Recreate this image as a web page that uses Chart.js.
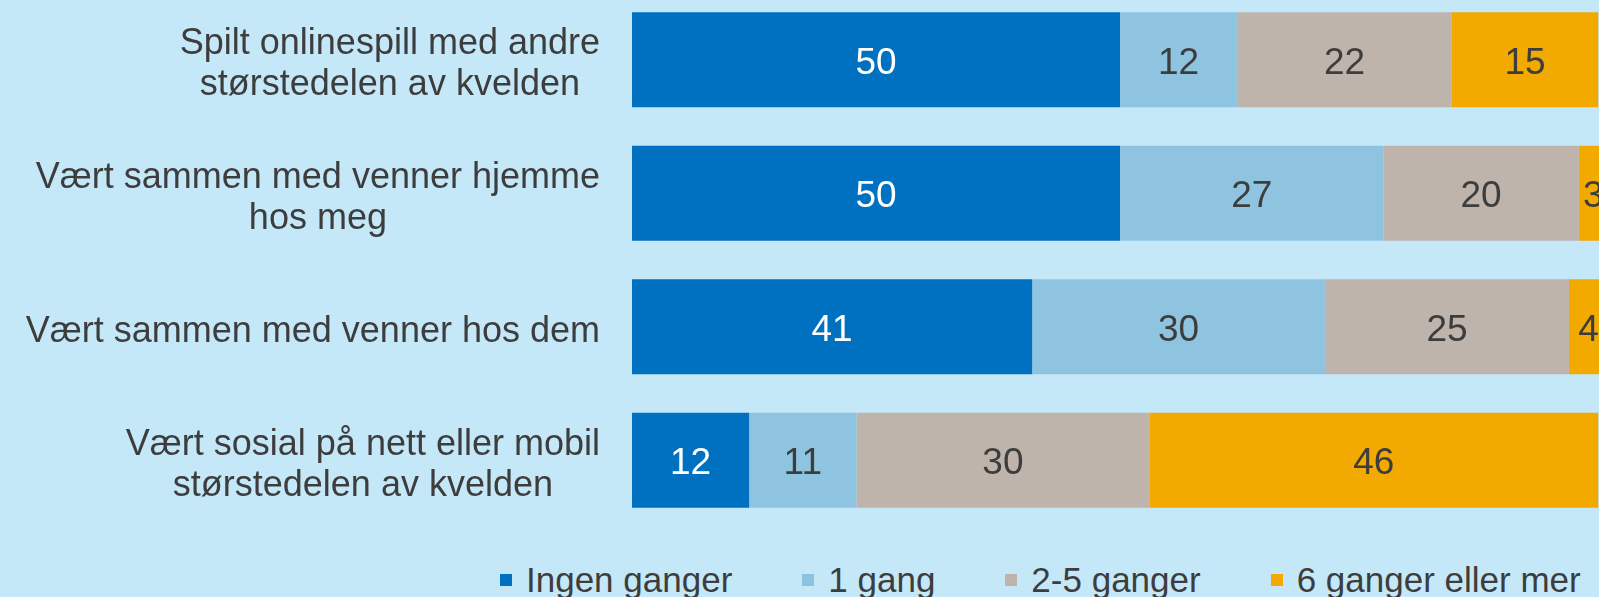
<!DOCTYPE html>
<html>
<head>
<meta charset="utf-8">
<script src="https://cdn.jsdelivr.net/npm/chart.js@4/dist/chart.umd.min.js"></script>
<style>
  html, body { margin: 0; padding: 0; width: 1599px; height: 597px; overflow: hidden; background: #C5E8F9; font-family: "Liberation Sans", Arial, sans-serif; }
  #wrap { position: absolute; left: 0; top: -8px; width: 1610px; height: 540px; }
  #legend { position: absolute; left: 500px; top: 560px; display: flex; align-items: center; font-size: 35px; line-height: 40px; color: #3D3D3D; white-space: nowrap; }
  .item { display: flex; align-items: center; margin-right: 70px; }
  .box { width: 12px; height: 12px; margin-right: 14px; }
</style>
</head>
<body>
<div id="wrap"><canvas id="c" width="1610" height="540"></canvas></div>
<div id="legend"></div>
<script>
var categories = [
  ['Spilt onlinespill med andre', 'størstedelen av kvelden'],
  ['Vært sammen med venner hjemme', 'hos meg'],
  ['Vært sammen med venner hos dem'],
  ['Vært sosial på nett eller mobil', 'størstedelen av kvelden']
];
var seriesNames = ['Ingen ganger', '1 gang', '2-5 ganger', '6 ganger eller mer'];
var ingenGanger = [50, 50, 41, 12];
var enGang = [12, 27, 30, 11];
var toFemGanger = [22, 20, 25, 30];
var seksEllerMer = [15, 3, 4, 46];

var colors = ['#0070C0', '#8FC4E0', '#BEB4AC', '#F2A900'];
var valueColors = ['#FFFFFF', '#3D3D3D', '#3D3D3D', '#3D3D3D'];
var font = '"Liberation Sans", Arial, sans-serif';

// draws the value in the middle of each segment
var valueLabels = {
  id: 'valueLabels',
  afterDatasetsDraw: function (chart) {
    var ctx = chart.ctx;
    ctx.save();
    ctx.font = '37px ' + font;
    ctx.textAlign = 'center';
    ctx.textBaseline = 'middle';
    chart.data.datasets.forEach(function (ds, i) {
      var meta = chart.getDatasetMeta(i);
      meta.data.forEach(function (bar, j) {
        var p = bar.getProps(['x', 'y', 'base'], true);
        ctx.fillStyle = valueColors[i];
        ctx.fillText(String(ds.data[j]), (p.x + p.base) / 2, p.y + 4);
      });
    });
    ctx.restore();
  }
};

// category labels: block right-aligned, lines centred inside the block
var categoryLabels = {
  id: 'categoryLabels',
  afterDraw: function (chart) {
    var ctx = chart.ctx;
    var yScale = chart.scales.y;
    var right = chart.chartArea.left - 32;
    var lh = 41;
    ctx.save();
    ctx.font = '36px ' + font;
    ctx.fillStyle = '#3D3D3D';
    ctx.textAlign = 'center';
    ctx.textBaseline = 'middle';
    categories.forEach(function (lines, i) {
      var w = 0;
      lines.forEach(function (l) { w = Math.max(w, ctx.measureText(l).width); });
      var cx = right - w / 2;
      var cy = yScale.getPixelForValue(i) + 5;
      var y0 = cy - (lines.length - 1) * lh / 2;
      lines.forEach(function (l, k) {
        ctx.fillText(l, cx, y0 + k * lh);
      });
    });
    ctx.restore();
  }
};

var allSeries = [ingenGanger, enGang, toFemGanger, seksEllerMer];

var chart = new Chart(document.getElementById('c'), {
  type: 'bar',
  data: {
    labels: categories.map(function (c) { return c.join(' '); }),
    datasets: allSeries.map(function (d, i) {
      return {
        label: seriesNames[i],
        data: d,
        backgroundColor: colors[i],
        borderWidth: 0,
        categoryPercentage: 1,
        barPercentage: 0.71
      };
    })
  },
  options: {
    indexAxis: 'y',
    responsive: false,
    devicePixelRatio: 1,
    animation: false,
    layout: { padding: { left: 632, right: 2, top: 1, bottom: 5 } },
    scales: {
      x: { stacked: true, min: 0, max: 100, display: false },
      y: { stacked: true, display: false }
    },
    plugins: {
      legend: { display: false },
      tooltip: { enabled: false }
    }
  },
  plugins: [valueLabels, categoryLabels]
});

var legend = document.getElementById('legend');
seriesNames.forEach(function (name, i) {
  var item = document.createElement('div');
  item.className = 'item';
  var box = document.createElement('span');
  box.className = 'box';
  box.style.background = colors[i];
  var txt = document.createElement('span');
  txt.textContent = name;
  item.appendChild(box);
  item.appendChild(txt);
  legend.appendChild(item);
});
</script>
</body>
</html>
